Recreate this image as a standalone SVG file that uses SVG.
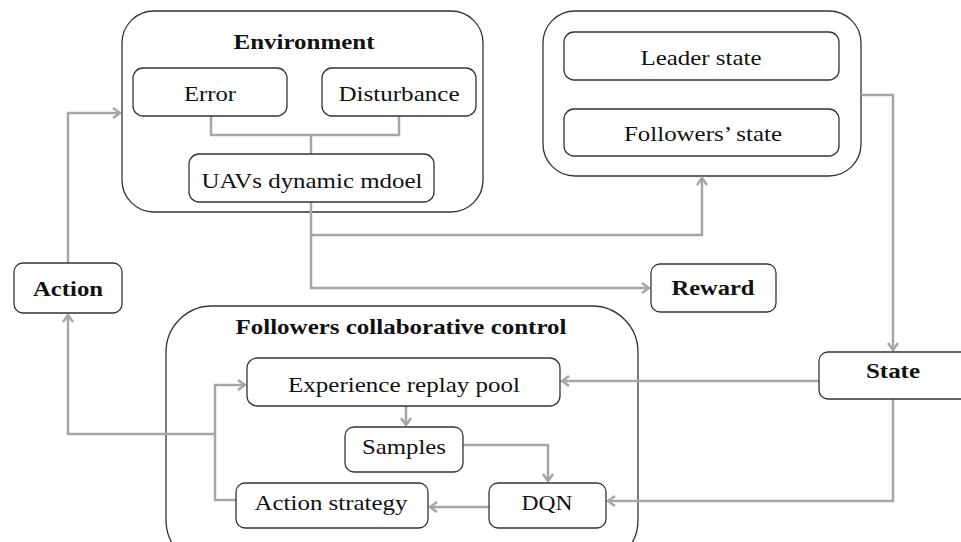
<svg xmlns="http://www.w3.org/2000/svg" width="961" height="542" viewBox="0 0 961 542">
<defs>
<marker id="arr" markerWidth="12" markerHeight="12" refX="10" refY="6" orient="auto" markerUnits="userSpaceOnUse">
<path d="M3,1 L10,6 L3,11" fill="none" stroke="#a6a6a6" stroke-width="2.5"/>
</marker>
<style>
.box{fill:#fff;stroke:#333;stroke-width:1.3}
text{font-family:'Liberation Serif','DejaVu Serif',serif;font-size:22px;fill:#111;text-anchor:middle;dominant-baseline:central}
.b{font-weight:bold;font-size:21px}
.c{fill:none;stroke:#a6a6a6;stroke-width:2.5}
</style>
</defs>
<rect width="961" height="542" fill="#fff"/>
<g id="environment">
<rect class="box" x="122" y="11" width="361" height="201" rx="32"/>
<text class="b" x="304" y="42" textLength="141" lengthAdjust="spacingAndGlyphs">Environment</text>
</g>
<g id="state-group">
<rect class="box" x="543" y="11" width="318" height="165" rx="32"/>
</g>
<g id="followers-control">
<rect class="box" x="166" y="306" width="472" height="260" rx="46"/>
<text class="b" x="401" y="327" textLength="331" lengthAdjust="spacingAndGlyphs">Followers collaborative control</text>
</g>
<g id="connectors">
<path class="c" d="M211,116 V135 H399 V116"/>
<path class="c" d="M311,135 V154"/>
<path class="c" d="M311,202 V288 H649" marker-end="url(#arr)"/>
<path class="c" d="M311,235 H702 V178" marker-end="url(#arr)"/>
<path class="c" d="M861,95 H893 V350" marker-end="url(#arr)"/>
<path class="c" d="M68,263 V113 H120" marker-end="url(#arr)"/>
<path class="c" d="M819,381 H562" marker-end="url(#arr)"/>
<path class="c" d="M893,399 V501 H608" marker-end="url(#arr)"/>
<path class="c" d="M406,406 V425" marker-end="url(#arr)"/>
<path class="c" d="M463,445 H548 V481" marker-end="url(#arr)"/>
<path class="c" d="M489,507 H430" marker-end="url(#arr)"/>
<path class="c" d="M236,500 H215 V385 H245" marker-end="url(#arr)"/>
<path class="c" d="M215,434 H68 V315" marker-end="url(#arr)"/>
</g>
<g id="error">
<rect class="box" x="133" y="68" width="154" height="48" rx="10"/>
<text x="210" y="93" textLength="52" lengthAdjust="spacingAndGlyphs">Error</text>
</g>
<g id="disturbance">
<rect class="box" x="322" y="68" width="154" height="48" rx="10"/>
<text x="399" y="93" textLength="121" lengthAdjust="spacingAndGlyphs">Disturbance</text>
</g>
<g id="uav-model">
<rect class="box" x="189" y="154" width="245" height="48" rx="10"/>
<text x="312" y="180" textLength="221" lengthAdjust="spacingAndGlyphs">UAVs dynamic mdoel</text>
</g>
<g id="leader-state">
<rect class="box" x="564" y="32" width="275" height="48" rx="10"/>
<text x="701" y="57" textLength="121" lengthAdjust="spacingAndGlyphs">Leader state</text>
</g>
<g id="followers-state">
<rect class="box" x="564" y="109" width="275" height="47" rx="10"/>
<text x="703" y="133" textLength="158" lengthAdjust="spacingAndGlyphs">Followers’ state</text>
</g>
<g id="action">
<rect class="box" x="14" y="263" width="108" height="50" rx="9"/>
<text class="b" x="68" y="289" textLength="70" lengthAdjust="spacingAndGlyphs">Action</text>
</g>
<g id="reward">
<rect class="box" x="651" y="264" width="125" height="48" rx="9"/>
<text class="b" x="713" y="288" textLength="83" lengthAdjust="spacingAndGlyphs">Reward</text>
</g>
<g id="state">
<rect class="box" x="819" y="352" width="160" height="47" rx="9"/>
<text class="b" x="893" y="371" textLength="54" lengthAdjust="spacingAndGlyphs">State</text>
</g>
<g id="experience-replay-pool">
<rect class="box" x="247" y="358" width="313" height="48" rx="10"/>
<text x="404" y="384" textLength="232" lengthAdjust="spacingAndGlyphs">Experience replay pool</text>
</g>
<g id="samples">
<rect class="box" x="345" y="427" width="118" height="45" rx="9"/>
<text x="404" y="446" textLength="84" lengthAdjust="spacingAndGlyphs">Samples</text>
</g>
<g id="action-strategy">
<rect class="box" x="236" y="483" width="192" height="45" rx="9"/>
<text x="331" y="502" textLength="153" lengthAdjust="spacingAndGlyphs">Action strategy</text>
</g>
<g id="dqn">
<rect class="box" x="489" y="483" width="117" height="45" rx="9"/>
<text x="547" y="502" textLength="51" lengthAdjust="spacingAndGlyphs">DQN</text>
</g>
</svg>
